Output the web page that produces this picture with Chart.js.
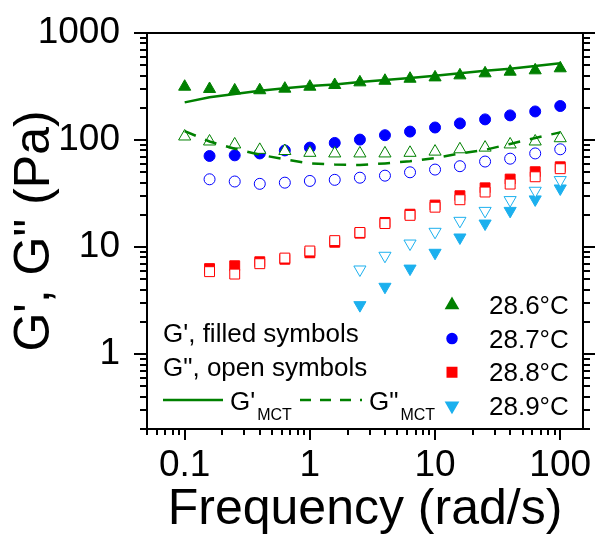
<!DOCTYPE html>
<html lang="en">
<head>
<meta charset="UTF-8" />
<title>G', G" vs frequency</title>
<script src="https://cdn.jsdelivr.net/npm/chart.js"></script>
<style>
  html, body { margin: 0; padding: 0; background: #fff; }
</style>
</head>
<body>
<canvas id="rheoChart" width="595" height="538"></canvas>

<script>
// frequencies (rad/s)
const freq = [0.1, 0.158, 0.251, 0.398, 0.631, 1, 1.58, 2.51, 3.98, 6.31, 10, 15.8, 25.1, 39.8, 63.1, 100];

const temps = ['28.6°C', '28.7°C', '28.8°C', '28.9°C'];

// G' (filled) and G" (open), Pa
const gp286  = [315, 300, 291, 292, 302, 315, 327, 346, 358, 374, 385, 402, 420, 435, 448, 468];
const gpp286 = [108, 97, 91, 81, 79, 76, 75, 75, 75, 76, 78, 82, 85, 91, 97, 104];
const gp287  = [null, 71, 72, 75, 80, 85, 94, 101, 111, 120, 131, 143, 156, 170, 185, 208];
const gpp287 = [null, 43, 41, 39, 40, 41.5, 42.5, 44.5, 46.5, 50, 53, 57, 63, 67, 75, 82];
const gp288  = [null, 6.3, 6.7, 7.3, 7.7, 8.85, 11.1, 13.5, 17, 20.3, 24.7, 30.2, 35.8, 43.2, 50.6, 56.3];
const gpp288 = [null, 5.9, 5.6, 7.0, 7.9, 9.2, 11.5, 13.7, 16.6, 19.8, 23.6, 27.7, 32.7, 38.8, 45.4, 54];
const gp289  = [null, null, null, null, null, null, null, 2.87, 4.26, 6.3, 8.85, 12.3, 16.6, 21.8, 27.9, 35.3];
const gpp289 = [null, null, null, null, null, null, null, 6.18, 8.3, 10.8, 13.9, 17.6, 21.8, 27.5, 33.6, 42.3];

// MCT model curves
const mctGp  = [225, 251, 269, 289, 304, 320, 331, 348, 364, 380, 399, 420, 445, 464, 492, 521];
const mctGpp = [121, 97, 83, 73, 66, 60.5, 59, 58.4, 60.5, 63.4, 68, 75, 81, 92, 104.5, 118];

const FONT = '"Liberation Sans", Arial, Helvetica, sans-serif';
const GREEN = '#008000', BLUE = '#0000ff', RED = '#ff0000', CYAN = '#1cb0ee';

const marks = [
  { color: GREEN, style: 'triangle', rotation: 0, r: 7 },
  { color: BLUE, style: 'circle', rotation: 0, r: 5.5 },
  { color: RED, style: 'rect', rotation: 0, r: 7 },
  { color: CYAN, style: 'triangle', rotation: 180, r: 7 }
];

function pts(vals) {
  return freq.map((f, i) => ({ x: f, y: vals[i] })).filter(p => p.y !== null);
}

function decadeTicks(min, max) {
  const out = [];
  for (let e = Math.floor(Math.log10(min)); e <= Math.ceil(Math.log10(max)); e++) {
    for (let m = 1; m <= 9; m++) {
      const v = +(m * Math.pow(10, e)).toPrecision(6);
      if (v >= min * 0.999 && v <= max * 1.001) out.push(v);
    }
  }
  return out;
}
const isDecade = v => Math.abs(Math.log10(v) - Math.round(Math.log10(v))) < 1e-6;

function markerSet(vals, k, filled) {
  const m = marks[k];
  return {
    data: pts(vals),
    pointStyle: m.style,
    rotation: m.rotation,
    pointRadius: m.r,
    backgroundColor: filled ? m.color : '#fff',
    borderColor: m.color,
    borderWidth: 1,
    order: filled ? 3 : 2
  };
}

// fixed axis sizes, no extra label overflow padding
function fixSize(s, size) {
  if (s.isHorizontal()) s.height = size; else s.width = size;
  s.paddingTop = s.paddingBottom = s.paddingLeft = s.paddingRight = 0;
}

// box + outward ticks (long at decades)
const frameTicks = {
  id: 'frameTicks',
  afterDraw(chart) {
    const { ctx, chartArea: a, scales: { x, y } } = chart;
    ctx.save();
    ctx.strokeStyle = '#000';
    ctx.lineWidth = 2;
    ctx.strokeRect(a.left, a.top, a.right - a.left, a.bottom - a.top);
    ctx.beginPath();
    x.ticks.forEach(t => {
      const px = Math.round(x.getPixelForValue(t.value));
      const len = isDecade(t.value) ? 11 : 6;
      ctx.moveTo(px, a.bottom);
      ctx.lineTo(px, a.bottom + len);
    });
    y.ticks.forEach(t => {
      const py = Math.round(y.getPixelForValue(t.value));
      const len = isDecade(t.value) ? 13 : 7;
      ctx.moveTo(a.left - len, py);
      ctx.lineTo(a.left, py);
      ctx.moveTo(a.right, py);
      ctx.lineTo(a.right + len, py);
    });
    ctx.stroke();
    ctx.restore();
  }
};

// legend drawn inside the plot area
const legendBox = {
  id: 'legendBox',
  afterDraw(chart) {
    const { ctx } = chart;
    ctx.save();
    ctx.fillStyle = '#000';
    ctx.textBaseline = 'alphabetic';
    ctx.font = '26px ' + FONT;
    ctx.fillText("G', filled symbols", 163, 342);
    ctx.fillText('G", open symbols', 163, 376);

    // MCT samples
    ctx.strokeStyle = GREEN;
    ctx.lineWidth = 2.5;
    ctx.beginPath();
    ctx.moveTo(163, 400);
    ctx.lineTo(223, 400);
    ctx.stroke();
    ctx.setLineDash([11, 9]);
    ctx.beginPath();
    ctx.moveTo(300, 400);
    ctx.lineTo(362, 400);
    ctx.stroke();
    ctx.setLineDash([]);

    ctx.font = '26px ' + FONT;
    ctx.fillText("G'", 230, 410);
    let w = ctx.measureText("G'").width;
    ctx.font = '16px ' + FONT;
    ctx.fillText('MCT', 230 + w + 2, 420);
    ctx.font = '26px ' + FONT;
    ctx.fillText('G"', 369, 410);
    w = ctx.measureText('G"').width;
    ctx.font = '16px ' + FONT;
    ctx.fillText('MCT', 369 + w + 2, 420);

    // temperatures
    ctx.font = '26px ' + FONT;
    marks.forEach((m, i) => {
      const yy = 305 + i * 33.6;
      ctx.fillStyle = m.color;
      ctx.strokeStyle = m.color;
      Chart.helpers.drawPoint(ctx, { pointStyle: m.style, radius: m.r - 1, rotation: m.rotation, borderWidth: 1 }, 452, yy);
      ctx.fillStyle = '#000';
      ctx.fillText(temps[i], 489, yy + 9);
    });
    ctx.restore();
  }
};

new Chart(document.getElementById('rheoChart'), {
  type: 'scatter',
  data: {
    datasets: [
      { type: 'line', data: pts(mctGp), showLine: true, borderColor: GREEN, borderWidth: 2.5, pointRadius: 0, fill: false, order: 1 },
      { type: 'line', data: pts(mctGpp), showLine: true, borderColor: GREEN, borderWidth: 2.5, borderDash: [12, 10], pointRadius: 0, fill: false, order: 1 },
      markerSet(gpp286, 0, false),
      markerSet(gpp287, 1, false),
      markerSet(gpp288, 2, false),
      markerSet(gpp289, 3, false),
      markerSet(gp286, 0, true),
      markerSet(gp287, 1, true),
      markerSet(gp288, 2, true),
      markerSet(gp289, 3, true)
    ]
  },
  options: {
    responsive: false,
    animation: false,
    layout: { padding: { top: 33, right: 12, left: 0, bottom: 0 } },
    plugins: { legend: { display: false }, tooltip: { enabled: false } },
    scales: {
      x: {
        type: 'logarithmic',
        min: 0.05,
        max: 152,
        afterBuildTicks: s => { s.ticks = decadeTicks(0.05, 152).map(v => ({ value: v })); },
        afterFit: s => fixSize(s, 109),
        grid: { display: false, drawTicks: false },
        border: { display: false },
        ticks: {
          autoSkip: false, maxRotation: 0, padding: 15, color: '#000',
          font: { family: FONT, size: 37 },
          callback: v => isDecade(v) ? String(v) : ''
        },
        title: {
          display: true, text: 'Frequency (rad/s)', color: '#000',
          font: { family: FONT, size: 50, lineHeight: 1 },
          padding: { top: 0, bottom: 3 }
        }
      },
      y: {
        type: 'logarithmic',
        min: 0.2,
        max: 1000,
        afterBuildTicks: s => { s.ticks = decadeTicks(0.2, 1000).map(v => ({ value: v })); },
        afterFit: s => fixSize(s, 147),
        grid: { display: false, drawTicks: false },
        border: { display: false },
        ticks: {
          autoSkip: false, padding: 27, color: '#000',
          font: { family: FONT, size: 37 },
          callback: v => isDecade(v) ? String(v) : ''
        },
        title: {
          display: true, text: 'G\', G" (Pa)', color: '#000',
          font: { family: FONT, size: 50, lineHeight: 1 },
          padding: { top: 10, bottom: 0 }
        }
      }
    }
  },
  plugins: [frameTicks, legendBox]
});
</script>
</body>
</html>
